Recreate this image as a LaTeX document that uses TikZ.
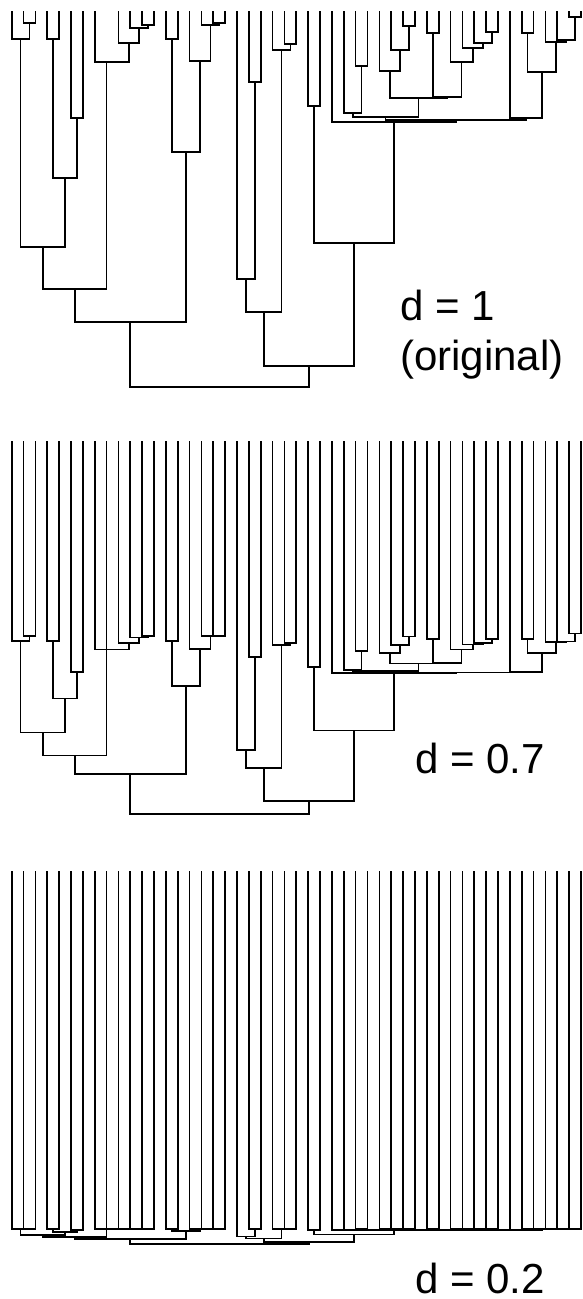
\documentclass[tikz,border=0pt]{standalone}
\usepackage{fontspec}
\newfontfamily\labfont{Liberation Sans}
\usetikzlibrary{calc}
\tikzset{dend/.style={line width=1.7pt, line join=miter, line cap=rect},
  lab/.style={inner sep=0pt, anchor=base west, font=\labfont\fontsize{42}{48}\selectfont}}
\newif\iftipeight
\def\Yone#1{\pgfmathsetmacro\yy{#1}}
\def\Ytwo#1{\pgfmathsetmacro\yy{631.9+0.3317*(#1-12)+0.0004067*(#1-12)*(#1-12)}}
\def\Ythree#1{\pgfmathsetmacro\yy{1228.8+0.00011*(#1-12)*(#1-12)}}
\newcommand\inode[4]{%
  \Y{#4}%
  \path let \p1=(\pre#2), \p2=(\pre#3) in ({(\x1+\x2)/2},{-\yy*1pt}) coordinate (\pre#1);
  \draw[dend] (\pre#2) |- (\pre#1) -| (\pre#3);
}
\newcommand\drawtree{%
 \foreach \i in {0,...,48}{\coordinate (\pre t\i) at ({(11.7+11.86*\i)*1pt},{-\tiptop*1pt});}
 \inode{n12}{t1}{t2}{23.3}
 \inode{A}{t0}{n12}{39.3}
 \inode{n34}{t3}{t4}{39.3}
 \inode{n56}{t5}{t6}{118}
 \inode{B}{n34}{n56}{178.3}
 \inode{AB}{A}{B}{247}
 \inode{n1112}{t11}{t12}{25}
 \inode{n10}{t10}{n1112}{28.3}
 \inode{X}{t9}{n10}{43.3}
 \Y{62.3}
 \path let \p1=(\pre t8) in (\x1,{-\yy*1pt}) coordinate (\pre C);
 \draw[dend] (\pre t7) |- (\pre C) -| (\pre X);
 \iftipeight \draw[dend] (\pre t8) -- (\pre C); \fi
 \inode{ABC}{AB}{C}{289.3}
 \inode{n1314}{t13}{t14}{39.3}
 \inode{n1718}{t17}{t18}{23.3}
 \inode{n16}{t16}{n1718}{25}
 \inode{n15}{t15}{n16}{61}
 \inode{D}{n1314}{n15}{151.7}
 \inode{L}{ABC}{D}{321.7}
 \inode{n2021}{t20}{t21}{81.7}
 \inode{n19}{t19}{n2021}{279.3}
 \inode{n2324}{t23}{t24}{44.3}
 \inode{n22}{t22}{n2324}{50}
 \inode{E}{n19}{n22}{311.7}
 \inode{n2526}{t25}{t26}{106}
 \inode{n2930}{t29}{t30}{66}
 \inode{n28}{t28}{n2930}{113.3}
 \inode{n3334}{t33}{t34}{26}
 \inode{n32}{t32}{n3334}{50}
 \inode{H}{t31}{n32}{71}
 \inode{n3536}{t35}{t36}{33.3}
 \inode{n4041}{t40}{t41}{32.3}
 \inode{n39}{t39}{n4041}{43.3}
 \inode{n38}{t38}{n39}{48.3}
 \inode{n37}{t37}{n38}{61.7}
 \inode{I}{n3536}{n37}{96.7}
 \inode{HI}{H}{I}{98.3}
 \inode{K}{n28}{HI}{116.7}
 \inode{n4344}{t43}{t44}{33.3}
 \inode{n4748}{t47}{t48}{16.7}
 \inode{n46}{t46}{n4748}{40}
 \inode{n45}{t45}{n46}{41.7}
 \inode{n43}{n4344}{n45}{71.7}
 \inode{J}{t42}{n43}{118.3}
 \inode{KJ}{K}{J}{120}
 \inode{G}{t27}{KJ}{121.7}
 \inode{F}{n2526}{G}{242.7}
 \inode{R}{E}{F}{365.7}
 \inode{root}{L}{R}{386.7}
}
\begin{document}
\begin{tikzpicture}
\fill[white] (0,0) rectangle (583pt,-1299pt);
\useasboundingbox (0,0) rectangle (583pt,-1299pt);
% tree d = 1
\let\Y\Yone \def\pre{a}\def\tiptop{12}\tipeightfalse
\drawtree
% tree d = 0.7
\let\Y\Ytwo \def\pre{b}\def\tiptop{442.3}\tipeighttrue
\drawtree
% tree d = 0.2
\let\Y\Ythree \def\pre{c}\def\tiptop{872.3}\tipeighttrue
\drawtree
\node[lab] (l1) at (400pt,-320pt) {d = 1};
\node[lab] (l2) at (400pt,-370.5pt) {(original)};
\node[lab] (l3) at (415pt,-773.3pt) {d = 0.7};
\node[lab, text depth=0pt] (l4) at (415pt,-1293.5pt) {d = 0.2};
\end{tikzpicture}
\end{document}
